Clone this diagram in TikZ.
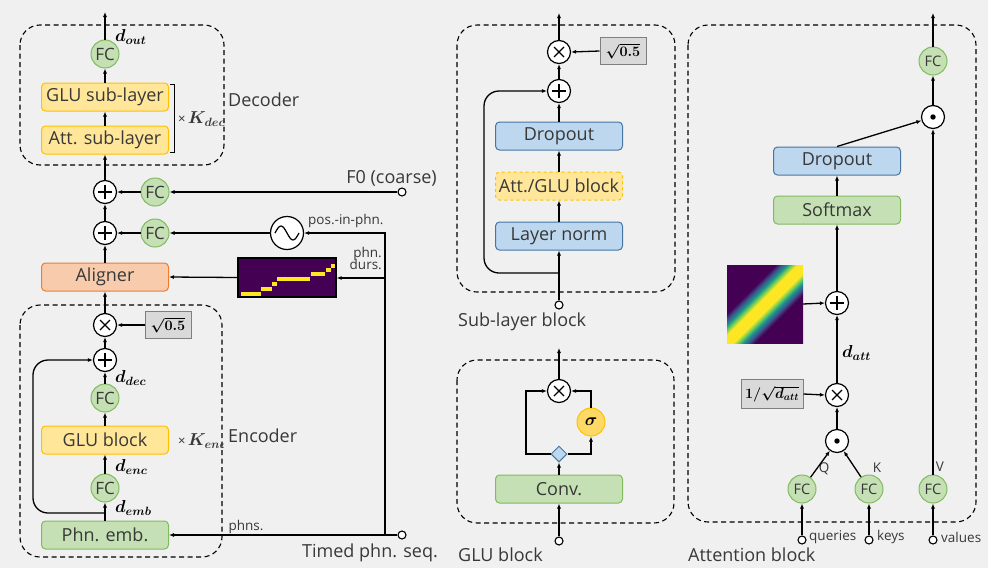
\documentclass[tikz,border=0pt]{standalone}
\usepackage{fontspec}
\setmainfont{Open Sans}
\usetikzlibrary{arrows.meta,shapes.geometric}

\definecolor{bg}{HTML}{F0F0F0}
\definecolor{txt}{HTML}{383838}
\definecolor{gfill}{RGB}{197,224,180}
\definecolor{gdraw}{RGB}{130,186,95}
\definecolor{bfill}{RGB}{189,215,238}
\definecolor{bdraw}{RGB}{70,118,164}
\definecolor{yfill}{RGB}{255,230,153}
\definecolor{ydraw}{RGB}{255,192,0}
\definecolor{sigfill}{RGB}{255,217,102}
\definecolor{ofill}{RGB}{248,203,173}
\definecolor{odraw}{RGB}{237,125,49}
\definecolor{sfill}{RGB}{217,217,217}
\definecolor{sdraw}{RGB}{127,127,127}
\definecolor{vpurple}{RGB}{68,1,84}
\definecolor{vblue}{RGB}{59,82,139}
\definecolor{vteal}{RGB}{33,145,140}
\definecolor{vgreen}{RGB}{94,201,98}
\definecolor{vyellow}{RGB}{253,231,37}

% viridis-coloured gaussian band (used for the attention prior);
% the path box covers the 25bp..75bp part of the shading
\pgfdeclarehorizontalshading{viridisband}{100bp}{%
  color(0bp)=(vpurple); color(40.9bp)=(vpurple); color(42.7bp)=(vblue);
  color(44.5bp)=(vteal); color(45.9bp)=(vgreen); color(47.7bp)=(vyellow);
  color(52.3bp)=(vyellow); color(54.1bp)=(vgreen); color(55.5bp)=(vteal);
  color(57.3bp)=(vblue); color(59.1bp)=(vpurple); color(100bp)=(vpurple)}

\newcommand{\mlab}[1]{{\boldmath$#1$}}

\tikzset{
  >={Latex[length=5pt,width=4pt]},
  conn/.style={->, line width=1.3pt, draw=black},
  blk/.style={rectangle, rounded corners=4pt, minimum width=127pt,
    minimum height=28pt, inner sep=0pt, line width=1pt, text=txt,
    font=\fontsize{18}{21}\selectfont},
  gblk/.style={blk, fill=gfill, draw=gdraw},
  bblk/.style={blk, fill=bfill, draw=bdraw},
  yblk/.style={blk, fill=yfill, draw=ydraw},
  oblk/.style={blk, fill=ofill, draw=odraw},
  scalebox/.style={rectangle, fill=sfill, draw=sdraw, line width=1pt,
    minimum height=27pt, inner sep=0pt, font=\fontsize{14}{16}\selectfont},
  fc/.style={circle, minimum size=28pt, inner sep=0pt, fill=gfill,
    draw=gdraw, line width=1pt, text=txt, font=\fontsize{17}{19}\selectfont},
  fcs/.style={fc, font=\fontsize{14.5}{16}\selectfont},
  op/.style={circle, minimum size=23pt, inner sep=0pt, fill=white,
    draw=black, line width=1.2pt},
  plusop/.style={op, path picture={
    \draw[black, line width=1.3pt]
      ([xshift=-7pt]path picture bounding box.center) --
      ([xshift=7pt]path picture bounding box.center)
      ([yshift=-7pt]path picture bounding box.center) --
      ([yshift=7pt]path picture bounding box.center);}},
  timesop/.style={op, path picture={
    \draw[black, line width=1.3pt]
      ([shift={(-5pt,-5pt)}]path picture bounding box.center) --
      ([shift={(5pt,5pt)}]path picture bounding box.center)
      ([shift={(-5pt,5pt)}]path picture bounding box.center) --
      ([shift={(5pt,-5pt)}]path picture bounding box.center);}},
  dotop/.style={op, path picture={
    \fill[black] (path picture bounding box.center) circle (2.7pt);}},
  sineop/.style={circle, minimum size=33pt, inner sep=0pt, fill=white,
    draw=black, line width=1.2pt, path picture={
    \draw[black, line width=1.2pt]
      ([xshift=-12pt]path picture bounding box.center)
      sin ([shift={(-6pt,7pt)}]path picture bounding box.center)
      cos (path picture bounding box.center)
      sin ([shift={(6pt,-7pt)}]path picture bounding box.center)
      cos ([xshift=12pt]path picture bounding box.center);}},
  termpt/.style={circle, draw=black, fill=white, minimum size=8pt,
    inner sep=0pt, line width=1.1pt},
  dashgroup/.style={draw=black, dash pattern=on 5pt off 3.5pt,
    rounded corners=20pt, line width=1.1pt},
  lbl/.style={text=txt, font=\fontsize{18}{21}\selectfont, inner sep=0pt},
  smalltxt/.style={text=txt, font=\fontsize{13.5}{15}\selectfont, inner sep=0pt},
  mathlbl/.style={text=black, font=\fontsize{16.5}{18}\selectfont, inner sep=0pt},
}

\begin{document}
\begin{tikzpicture}[x=1pt,y=-1pt]
\fill[bg] (0,0) rectangle (988,568);
\useasboundingbox (0,0) rectangle (988,568);

% ---------------- Decoder ----------------
\draw[dashgroup] (20,25) rectangle (224,165);
\coordinate (decout) at (105,12);
\node[fc] (decfc) at (105,54) {FC};
\node[yblk] (glusub) at (105,97) {GLU sub-layer};
\node[yblk] (attsub) at (105,140) {Att. sub-layer};
\node[mathlbl, anchor=west] (dout) at (115,37) {\mlab{d_{out}}};
\draw[line width=1pt] (170,84) -- (174,84) -- (174,152) -- (170,152);
\node[anchor=west, inner sep=0pt] (kdec) at (178,119)
  {\fontsize{13}{15}\selectfont\color{txt}×\,\fontsize{16.5}{18}\selectfont\mlab{K_{dec}}};
\node[lbl, anchor=west] (declbl) at (228,100) {Decoder};

\draw[conn] (decfc.north) -- (decout);
\draw[conn] (glusub.north) -- (decfc.south);
\draw[conn] (attsub.north) -- (glusub.south);

% ---------------- conditioning ----------------
\node[plusop] (addf0) at (105,192) {};
\node[fc] (fcf0) at (155,192) {FC};
\node[termpt] (f0in) at (402,192) {};
\node[lbl, anchor=south east] (f0lbl) at (437,187) {F0 (coarse)};

\node[plusop] (addpos) at (105,233) {};
\node[fc] (fcpos) at (155,233) {FC};
\node[sineop] (posenc) at (287,233) {};
\node[smalltxt, anchor=west] (poslbl) at (308,221) {pos.-in-phn.};

\node[oblk] (aligner) at (105,277) {Aligner};
\node[rectangle, minimum width=98pt, minimum height=39pt, inner sep=0pt,
  fill=vpurple, draw=black, line width=1.2pt] (durmap) at (287,277.5) {};
\foreach \xa/\xb/\yy in {241/261/294, 261/272/289, 272/277/284,
    277/310/279, 311/325/274, 326/331/270, 331/335/266}
  \draw[vyellow, line width=3.6pt] (\xa,\yy) -- (\xb,\yy);
\node[smalltxt, anchor=east, align=right] (durlbl) at (382,258)
  {phn.\\[-3pt]durs.};

\coordinate (busTop) at (385,233);
\coordinate (busDur) at (385,278);
\coordinate (busBot) at (385,535);

\draw[conn] (addf0.north) -- (attsub.south);
\draw[conn] (f0in.west) -- (fcf0.east);
\draw[conn] (fcf0.west) -- (addf0.east);
\draw[conn] (addpos.north) -- (addf0.south);
\draw[conn] (posenc.west) -- (fcpos.east);
\draw[conn] (fcpos.west) -- (addpos.east);
\draw[conn] (aligner.north) -- (addpos.south);
\draw[conn] (durmap.west) -- (aligner.east);
\draw[conn] (busBot) -- (busTop) -- (posenc.east);
\draw[conn] (busDur) -- (durmap.east |- busDur);

% ---------------- Encoder ----------------
\draw[dashgroup] (20,305) rectangle (222,557);
\node[timesop] (encmul) at (105,325) {};
\node[scalebox, minimum width=46pt] (encscale) at (168,325) {\mlab{\sqrt{0.5}}};
\node[plusop] (encadd) at (105,360) {};
\node[fc] (encfc2) at (105,398) {FC};
\node[yblk] (glublk) at (105,440) {GLU block};
\node[fc] (encfc1) at (105,488) {FC};
\node[gblk] (phnemb) at (105,535) {Phn. emb.};
\node[mathlbl, anchor=west] (ddec) at (115,378) {\mlab{d_{dec}}};
\node[mathlbl, anchor=west] (denc) at (115,467) {\mlab{d_{enc}}};
\node[mathlbl, anchor=west] (demb) at (115,508) {\mlab{d_{emb}}};
\node[anchor=west, inner sep=0pt] (kenc) at (178,441)
  {\fontsize{13}{15}\selectfont\color{txt}×\,\fontsize{16.5}{18}\selectfont\mlab{K_{en\scriptscriptstyle\mathrm{c}}}};
\node[lbl, anchor=west] (enclbl) at (228,436) {Encoder};
\node[termpt] (seqin) at (402,535) {};
\node[smalltxt] (phnslbl) at (246,527) {phns.};
\node[lbl] (seqlbl) at (370,553) {Timed phn. seq.};
\coordinate (encskip) at (105,513);

\draw[conn] (encmul.north) -- (aligner.south);
\draw[conn] (encscale.west) -- (encmul.east);
\draw[conn] (encadd.north) -- (encmul.south);
\draw[conn] (encfc2.north) -- (encadd.south);
\draw[conn] (glublk.north) -- (encfc2.south);
\draw[conn] (encfc1.north) -- (glublk.south);
\draw[conn] (phnemb.north) -- (encfc1.south);
\draw[conn, rounded corners=15pt] (encskip) -- (33,513) -- (33,360) -- (encadd.west);
\draw[conn] (seqin.west) -- (phnemb.east);

% ---------------- Sub-layer block ----------------
\draw[dashgroup] (457,25) rectangle (675,292);
\coordinate (subout) at (559,13);
\node[timesop] (submul) at (559,52) {};
\node[scalebox, minimum width=46pt] (subscale) at (623,51) {\mlab{\sqrt{0.5}}};
\node[plusop] (subadd) at (559,91) {};
\node[bblk] (subdrop) at (559,136) {Dropout};
\node[yblk, dashed] (subcore) at (559,186) {Att./GLU block};
\node[bblk] (subnorm) at (559,236) {Layer norm};
\coordinate (subskip) at (559,273);
\node[termpt] (subin) at (559,305) {};
\node[lbl, anchor=west] (sublbl) at (458,322) {Sub-layer block};

\draw[conn] (submul.north) -- (subout);
\draw[conn] (subscale.west) -- (submul.east);
\draw[conn] (subadd.north) -- (submul.south);
\draw[conn] (subdrop.north) -- (subadd.south);
\draw[conn] (subcore.north) -- (subdrop.south);
\draw[conn] (subnorm.north) -- (subcore.south);
\draw[conn] (subin.north) -- (subnorm.south);
\draw[conn, rounded corners=15pt] (subskip) -- (484,273) -- (484,91) -- (subadd.west);

% ---------------- GLU block ----------------
\draw[dashgroup] (457,360) rectangle (674,523);
\coordinate (gluout) at (559,348);
\node[timesop] (glumul) at (559,391) {};
\node[circle, minimum size=28pt, inner sep=0pt, fill=sigfill, draw=ydraw,
  line width=1pt, font=\fontsize{16}{18}\selectfont] (gate) at (591,422) {\mlab{\sigma}};
\node[diamond, minimum size=16pt, inner sep=0pt, fill=bfill, draw=bdraw,
  line width=1pt] (split) at (559,454) {};
\node[gblk] (conv) at (559,489) {Conv.};
\node[termpt] (gluin) at (559,541) {};
\node[lbl, anchor=west] (glulbl) at (458,555) {GLU block};

\draw[conn] (glumul.north) -- (gluout);
\draw[conn] (split.west) -- (526,454) -- (526,391) -- (glumul.west);
\draw[conn] (split.east) -- (591,454) -- (gate.south);
\draw[conn] (gate.north) -- (591,391) -- (glumul.east);
\draw[conn] (conv.north) -- (split.south);
\draw[conn] (gluin.north) -- (conv.south);

% ---------------- Attention block ----------------
\draw[dashgroup] (688,25) rectangle (976,522);
\coordinate (attout) at (933,13);
\node[fcs] (attfc) at (933,61) {FC};
\node[dotop] (attmix) at (933,117) {};
\node[bblk] (attdrop) at (837,161) {Dropout};
\node[gblk] (attsoft) at (837,210) {Softmax};
\node[plusop] (attadd) at (837,303) {};
\node[rectangle, minimum width=76pt, minimum height=78pt, inner sep=0pt]
  (prior) at (765,304) {};
\begin{scope}
  \clip (727,265) rectangle (803,343);
  \shade[shading=viridisband, transform canvas={rotate around={-45:(765,304)}}]
    (710,249) rectangle (820,359);
\end{scope}
\node[timesop] (attmul) at (837,395) {};
\node[scalebox, minimum width=62pt, minimum height=29pt] (attscale) at (772,394)
  {\mlab{1/\sqrt{d_{att}}}};
\node[dotop] (attqk) at (837,441) {};
\node[fcs] (fcq) at (802,489) {FC};
\node[fcs] (fck) at (869,489) {FC};
\node[fcs] (fcv) at (933,489) {FC};
\node[mathlbl, anchor=west] (datt) at (842,353) {\mlab{d_{att}}};
\node[smalltxt] (qlbl) at (824,469) {Q};
\node[smalltxt] (klbl) at (877,468) {K};
\node[smalltxt] (vlbl) at (940,467) {V};
\node[termpt] (qin) at (802,540) {};
\node[termpt] (kin) at (869,540) {};
\node[termpt] (vin) at (933,540) {};
\node[smalltxt, anchor=west] (qinlbl) at (809,537) {queries};
\node[smalltxt, anchor=west] (kinlbl) at (877,537) {keys};
\node[smalltxt, anchor=west] (vinlbl) at (941,537) {values};
\node[lbl, anchor=west] (attlbl) at (688,555) {Attention block};

\draw[conn] (attfc.north) -- (attout);
\draw[conn] (attmix.north) -- (attfc.south);
\draw[conn] (attdrop.north) -- (attmix);
\draw[conn] (attsoft.north) -- (attdrop.south);
\draw[conn] (attadd.north) -- (attsoft.south);
\draw[conn] (prior.east) -- (attadd.west);
\draw[conn] (attmul.north) -- (attadd.south);
\draw[conn] (attscale.east) -- (attmul.west);
\draw[conn] (attqk.north) -- (attmul.south);
\draw[conn] (fcq) -- (attqk);
\draw[conn] (fck) -- (attqk);
\draw[conn] (fcv.north) -- (attmix.south);
\draw[conn] (qin.north) -- (fcq.south);
\draw[conn] (kin.north) -- (fck.south);
\draw[conn] (vin.north) -- (fcv.south);
\end{tikzpicture}
\end{document}
